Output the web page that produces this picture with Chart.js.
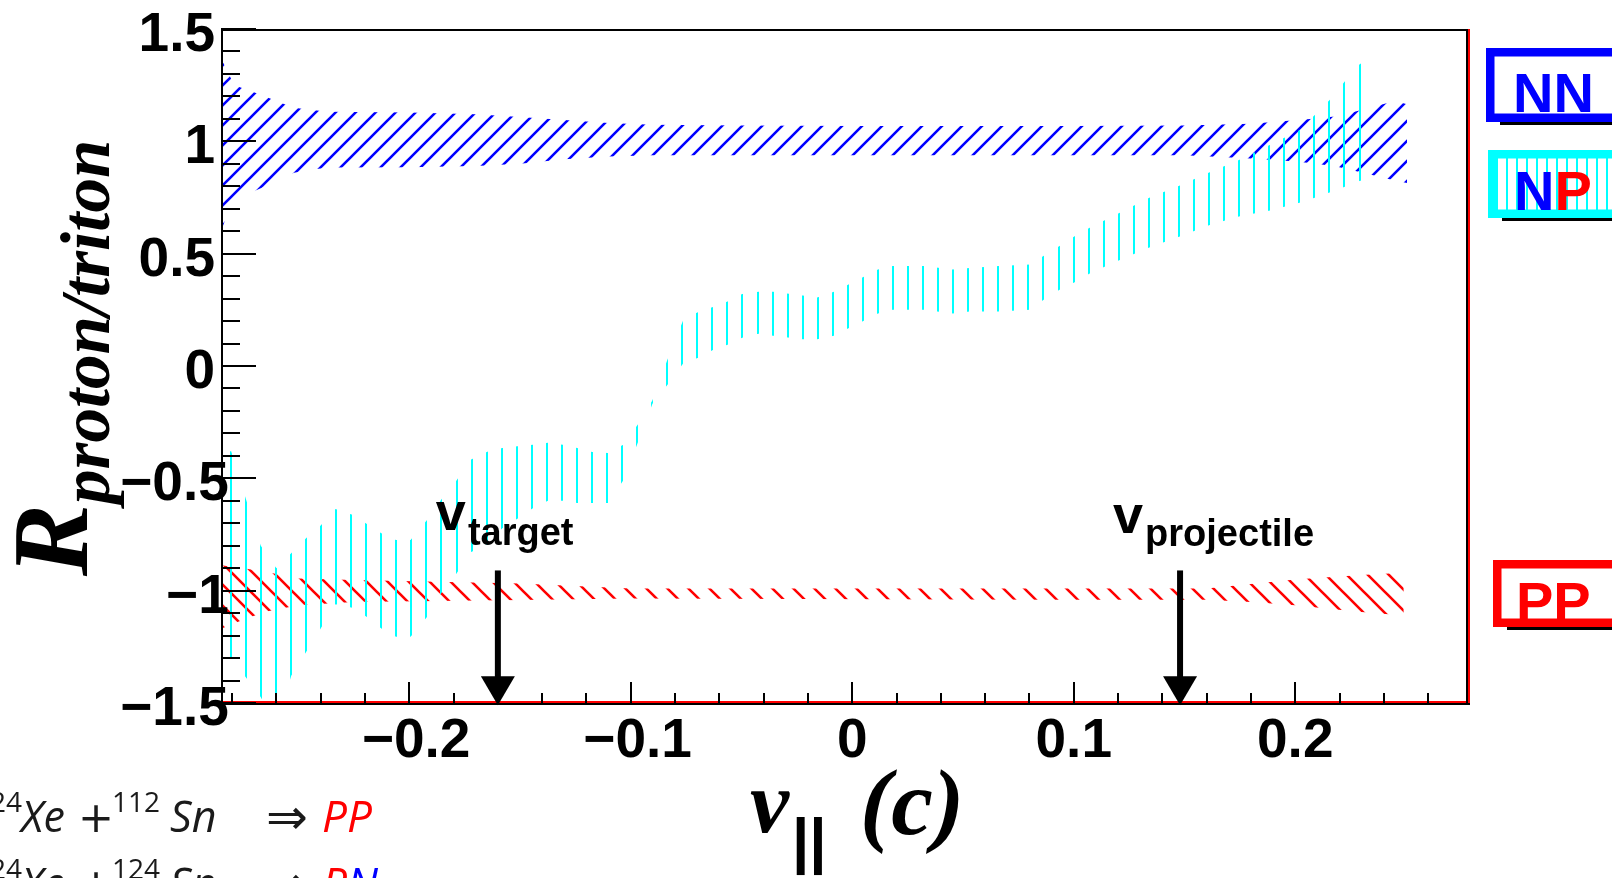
<!DOCTYPE html>
<html>
<head>
<meta charset="utf-8">
<title>R proton/triton vs v</title>
<script src="https://cdn.jsdelivr.net/npm/chart.js"></script>
<style>
  html, body { margin: 0; padding: 0; background: #fff; overflow: hidden; }
  canvas { display: block; }
</style>
</head>
<body>
<canvas id="ratioChart" width="1612" height="878"></canvas>
<script>
// axis ranges: parallel velocity (c) and the proton/triton ratio
const xLimits = [-0.285, 0.278];
const yLimits = [-1.5, 1.5];

const xTickValues = [-0.2, -0.1, 0, 0.1, 0.2];
const xTickLabels = ['−0.2', '−0.1', '0', '0.1', '0.2'];
const yTickValues = [-1.5, -1, -0.5, 0, 0.5, 1, 1.5];
const yTickLabels = ['−1.5', '−1', '−0.5', '0', '0.5', '1', '1.5'];

// NN band (upper / lower edge)
const nnV    = [-0.285, -0.282, -0.279, -0.272, -0.265, -0.259, -0.252, -0.244, -0.236, -0.2, -0.17, -0.15, -0.13, -0.11, -0.09, -0.05, 0, 0.05, 0.1, 0.15, 0.18, 0.197, 0.208, 0.219, 0.232, 0.245, 0.2505];
const nnHigh = [1.37, 1.31, 1.25, 1.225, 1.20, 1.175, 1.15, 1.14, 1.132, 1.128, 1.12, 1.108, 1.095, 1.082, 1.074, 1.07, 1.068, 1.068, 1.068, 1.07, 1.078, 1.092, 1.10, 1.112, 1.145, 1.18, 1.165];
const nnLow  = [0.60, 0.68, 0.73, 0.77, 0.80, 0.83, 0.86, 0.875, 0.883, 0.885, 0.89, 0.90, 0.92, 0.932, 0.938, 0.938, 0.938, 0.938, 0.938, 0.938, 0.924, 0.912, 0.902, 0.887, 0.857, 0.826, 0.815];

// NP band
const npV = [-0.285, -0.2804, -0.2739, -0.2671, -0.26, -0.2533, -0.2465, -0.24, -0.2333, -0.2257, -0.2193, -0.2126, -0.206, -0.1994, -0.1919, -0.1856, -0.1786, -0.1723, -0.1648, -0.158, -0.1512, -0.1442, -0.1374, -0.1307, -0.1242, -0.1174, -0.1103, -0.1034, -0.0968, -0.0902, -0.0835, -0.0762, -0.0695, -0.0629, -0.0563, -0.0497, -0.0423, -0.0357, -0.0224, -0.0158, -0.0083, -0.0017, 0.005, 0.0116, 0.0182, 0.0322, 0.0454, 0.053, 0.0662, 0.0804, 0.087, 0.0936, 0.1002, 0.1076, 0.1208, 0.1341, 0.1482, 0.1614, 0.1754, 0.1887, 0.2019, 0.2095, 0.2161, 0.2227, 0.2293, 0.231];
const npHigh = [-0.379, -0.379, -0.588, -0.799, -0.90, -0.833, -0.766, -0.71, -0.637, -0.662, -0.702, -0.744, -0.774, -0.774, -0.684, -0.595, -0.509, -0.417, -0.382, -0.365, -0.357, -0.35, -0.342, -0.35, -0.365, -0.383, -0.387, -0.35, -0.26, -0.153, 0.027, 0.207, 0.24, 0.263, 0.287, 0.321, 0.33, 0.33, 0.314, 0.305, 0.33, 0.363, 0.396, 0.429, 0.445, 0.445, 0.429, 0.436, 0.445, 0.452, 0.494, 0.534, 0.576, 0.618, 0.682, 0.749, 0.805, 0.862, 0.92, 0.985, 1.049, 1.124, 1.189, 1.271, 1.345, 1.345];
const npLow  = [-1.295, -1.295, -1.384, -1.473, -1.6, -1.379, -1.272, -1.168, -1.06, -1.076, -1.116, -1.168, -1.205, -1.205, -1.116, -1.012, -0.923, -0.829, -0.795, -0.722, -0.68, -0.633, -0.60, -0.60, -0.61, -0.61, -0.61, -0.51, -0.34, -0.168, -0.085, 0.013, 0.037, 0.071, 0.095, 0.126, 0.143, 0.135, 0.119, 0.119, 0.135, 0.168, 0.20, 0.234, 0.25, 0.25, 0.234, 0.243, 0.243, 0.25, 0.299, 0.339, 0.372, 0.414, 0.472, 0.528, 0.577, 0.628, 0.668, 0.692, 0.727, 0.751, 0.774, 0.799, 0.825, 0.825];

// PP band
const ppV    = [-0.285, -0.275, -0.265, -0.25, -0.225, -0.15, -0.1, 0.09, 0.16, 0.18, 0.2, 0.215, 0.23, 0.249];
const ppHigh = [-0.887, -0.90, -0.916, -0.946, -0.953, -0.968, -0.99, -0.99, -0.99, -0.97, -0.95, -0.94, -0.93, -0.92];
const ppLow  = [-1.17, -1.13, -1.094, -1.065, -1.05, -1.042, -1.035, -1.04, -1.04, -1.05, -1.065, -1.08, -1.095, -1.11];

// beam velocity markers
const markerNames = ['target', 'projectile'];
const markerV = [-0.16, 0.148];

const keyNames = ['NN', 'NP', 'PP'];
const reactions = [['124', '112', 'PP'], ['124', '124', 'PN']];

const BLUE = '#0000ff';
const CYAN = '#00ffff';
const RED = '#ff0000';
const letterColor = { N: BLUE, P: RED };

// diagonal hatch fills, like ROOT fill styles 3004 / 3005
function diagonalHatch(kind, size, color, dx, dy) {
  const tile = document.createElement('canvas');
  tile.width = size;
  tile.height = size;
  const t = tile.getContext('2d');
  t.strokeStyle = color;
  t.lineWidth = 2.6;
  t.beginPath();
  for (let k = -1; k <= 1; k++) {
    const o = k * size;
    if (kind === '/') { t.moveTo(o - 2, size + 2); t.lineTo(o + size + 2, -2); }
    else { t.moveTo(o - 2, -2); t.lineTo(o + size + 2, size + 2); }
  }
  t.stroke();
  const p = t.createPattern(tile, 'repeat');
  p.setTransform(new DOMMatrix([1, 0, 0, 1, dx, dy]));
  return p;
}

// vertical hatch (fill style 3006) with a fractional pitch, rounded to whole pixels
function verticalHatch(pitch, count, color, dx) {
  const tile = document.createElement('canvas');
  tile.width = Math.round(pitch * count);
  tile.height = 16;
  const t = tile.getContext('2d');
  t.fillStyle = color;
  for (let k = 0; k < count; k++) {
    t.fillRect(6 + Math.round(pitch * k), 0, 2, 16);
  }
  const p = t.createPattern(tile, 'repeat');
  p.setTransform(new DOMMatrix([1, 0, 0, 1, dx, 0]));
  return p;
}

const nnFill = diagonalHatch('/', 20, BLUE, 8, 0);
const ppFill = diagonalHatch('\\', 21, RED, 0, 5);
const npFill = verticalHatch(15.05, 20, CYAN, -2);
const npKeyFill = verticalHatch(10, 1, CYAN, 0);

function band(label, xs, hi, lo, fill) {
  const pts = arr => xs.map((x, i) => ({ x: x, y: arr[i] }));
  const common = { borderWidth: 0, borderColor: 'transparent', pointRadius: 0, pointHitRadius: 0, tension: 0 };
  return [
    Object.assign({ label: label + ' low', data: pts(lo), fill: false }, common),
    Object.assign({ label: label, data: pts(hi), fill: '-1', backgroundColor: fill }, common)
  ];
}

// frame, ticks, titles, markers and keys drawn ROOT style
const rootFrame = {
  id: 'rootFrame',
  afterDatasetsDraw(chart) {
    const ctx = chart.ctx;
    const a = chart.chartArea;
    const xs = chart.scales.x;
    const ys = chart.scales.y;
    ctx.save();

    // frame
    ctx.lineWidth = 2;
    ctx.strokeStyle = RED;
    ctx.beginPath();
    ctx.moveTo(a.left, a.bottom - 1);
    ctx.lineTo(a.right + 2, a.bottom - 1);
    ctx.moveTo(a.right + 1, a.top);
    ctx.lineTo(a.right + 1, a.bottom);
    ctx.stroke();
    ctx.strokeStyle = '#000';
    ctx.beginPath();
    ctx.moveTo(a.left + 1, a.bottom + 2);
    ctx.lineTo(a.left + 1, a.top + 1);
    ctx.lineTo(a.right - 1, a.top + 1);
    ctx.lineTo(a.right - 1, a.bottom + 1);
    ctx.moveTo(a.left, a.bottom + 1);
    ctx.lineTo(a.right + 2, a.bottom + 1);
    ctx.stroke();

    // ticks pointing inwards
    ctx.beginPath();
    for (let i = -15; i <= 15; i++) {
      const py = Math.round(ys.getPixelForValue(i / 10));
      const len = i % 5 === 0 ? 35 : 19;
      ctx.moveTo(a.left, py);
      ctx.lineTo(a.left + len, py);
    }
    for (let i = -14; i <= 13; i++) {
      const px = Math.round(xs.getPixelForValue(i * 0.02));
      const len = i % 5 === 0 ? 21 : 10;
      ctx.moveTo(px, a.bottom);
      ctx.lineTo(px, a.bottom - len);
    }
    ctx.stroke();

    // tick labels, placed by the hyphen width as ROOT does
    ctx.fillStyle = '#000';
    ctx.font = 'bold 55px "Liberation Sans", Arial, sans-serif';
    ctx.textAlign = 'left';
    ctx.textBaseline = 'alphabetic';
    yTickValues.forEach((v, i) => {
      const lab = yTickLabels[i];
      const w = ctx.measureText(lab.replace('−', '-')).width;
      ctx.fillText(lab, a.left - 6 - w, ys.getPixelForValue(v) + 22);
    });
    xTickValues.forEach((v, i) => {
      const lab = xTickLabels[i];
      const w = ctx.measureText(lab.replace('−', '-')).width;
      ctx.fillText(lab, xs.getPixelForValue(v) - w / 2, a.bottom + 54);
    });

    // velocity markers
    ctx.lineWidth = 6;
    markerV.forEach((v, i) => {
      const px = xs.getPixelForValue(v);
      const top = ys.getPixelForValue(-0.91);
      const tip = ys.getPixelForValue(-1.51);
      ctx.beginPath();
      ctx.moveTo(px, top);
      ctx.lineTo(px, tip - 24);
      ctx.stroke();
      ctx.beginPath();
      ctx.moveTo(px - 17, tip - 29);
      ctx.lineTo(px + 17, tip - 29);
      ctx.lineTo(px, tip);
      ctx.closePath();
      ctx.fill();

      const lx = px - (i === 0 ? 62 : 67);
      const ly = ys.getPixelForValue(i === 0 ? -0.73 : -0.743);
      ctx.font = 'bold 54px "Liberation Sans", Arial, sans-serif';
      ctx.fillText('v', lx, ly);
      const vw = ctx.measureText('v').width;
      ctx.font = 'bold 38px "Liberation Sans", Arial, sans-serif';
      ctx.fillText(markerNames[i], lx + vw + 2, ly + (i === 0 ? 15 : 13));
    });

    // axis titles
    ctx.fillStyle = '#000';
    ctx.font = 'italic bold 88px "Liberation Serif", "Times New Roman", serif';
    ctx.fillText('v', 750, 832);
    ctx.font = 'italic bold 94px "Liberation Serif", "Times New Roman", serif';
    ctx.fillText('(c)', 860, 834);
    ctx.font = 'bold 62px "Liberation Sans", Arial, sans-serif';
    ctx.fillText('||', 792, 861);

    ctx.save();
    ctx.translate(87, 576);
    ctx.rotate(-Math.PI / 2);
    ctx.font = 'italic bold 108px "Liberation Serif", "Times New Roman", serif';
    ctx.fillText('R', 0, 0);
    const rw = ctx.measureText('R').width;
    ctx.font = 'italic bold 69px "Liberation Serif", "Times New Roman", serif';
    ctx.fillText('proton/triton', rw, 22);
    ctx.restore();

    // keys on the right
    const boxes = [
      { top: 48, bottom: 122, left: 1486, edge: BLUE, base: 112, tx: 1513, hatch: false },
      { top: 150, bottom: 218, left: 1488, edge: CYAN, base: 210, tx: 1514, hatch: true },
      { top: 560, bottom: 627, left: 1493, edge: RED, base: 621, tx: 1516, hatch: false }
    ];
    keyNames.forEach((name, i) => {
      const b = boxes[i];
      const bw = 8.5;
      ctx.fillStyle = '#000';
      ctx.fillRect(b.left + 14, b.bottom, 200, 3);
      ctx.fillStyle = '#fff';
      ctx.fillRect(b.left, b.top, 200, b.bottom - b.top);
      if (b.hatch) {
        ctx.fillStyle = npKeyFill;
        ctx.fillRect(b.left, b.top, 200, b.bottom - b.top);
      }
      ctx.strokeStyle = b.edge;
      ctx.lineWidth = bw;
      ctx.strokeRect(b.left + bw / 2, b.top + bw / 2, 300, b.bottom - b.top - bw);
      ctx.font = 'bold 56px "Liberation Sans", Arial, sans-serif';
      let x = b.tx;
      for (const ch of name) {
        ctx.fillStyle = letterColor[ch];
        ctx.fillText(ch, x, b.base);
        x += ctx.measureText(ch).width;
      }
    });

    // reaction legend, bottom left
    reactions.forEach((r, i) => {
      const base = 832 + i * 67;
      ctx.fillStyle = '#1a1a1a';
      ctx.font = '28px "Open Sans", sans-serif';
      ctx.fillText(r[0], 22 - ctx.measureText(r[0]).width, base - 20);
      ctx.fillText(r[1], 112, base - 20);
      ctx.font = 'italic 43px "Open Sans", sans-serif';
      ctx.fillText('Xe', 21, base);
      ctx.fillText('Sn', 170, base);
      ctx.font = '43px "DejaVu Sans", sans-serif';
      ctx.fillText('+', 78, base);
      ctx.font = '50px "DejaVu Sans", sans-serif';
      ctx.fillText('⇒', 266, base + 2);
      ctx.font = 'italic 44px "Open Sans", sans-serif';
      let x = 322;
      for (const ch of r[2]) {
        ctx.fillStyle = letterColor[ch];
        ctx.fillText(ch, x, base);
        x += ctx.measureText(ch).width;
      }
    });

    ctx.restore();
  }
};

new Chart(document.getElementById('ratioChart'), {
  type: 'line',
  data: {
    datasets: [
      ...band('NP', npV, npHigh, npLow, npFill),
      ...band('PP', ppV, ppHigh, ppLow, ppFill),
      ...band('NN', nnV, nnHigh, nnLow, nnFill)
    ]
  },
  options: {
    responsive: false,
    animation: false,
    devicePixelRatio: 1,
    events: [],
    layout: { autoPadding: false, padding: { top: 29, right: 144, bottom: 0, left: 0 } },
    plugins: { legend: { display: false }, tooltip: { enabled: false } },
    scales: {
      x: {
        type: 'linear', min: xLimits[0], max: xLimits[1],
        grid: { display: false }, border: { display: false }, ticks: { display: false },
        afterFit(s) { s.height = 175; s.paddingLeft = 0; s.paddingRight = 0; }
      },
      y: {
        type: 'linear', min: yLimits[0], max: yLimits[1],
        grid: { display: false }, border: { display: false }, ticks: { display: false },
        afterFit(s) { s.width = 221; s.paddingTop = 0; s.paddingBottom = 0; }
      }
    }
  },
  plugins: [rootFrame]
});
</script>
</body>
</html>
